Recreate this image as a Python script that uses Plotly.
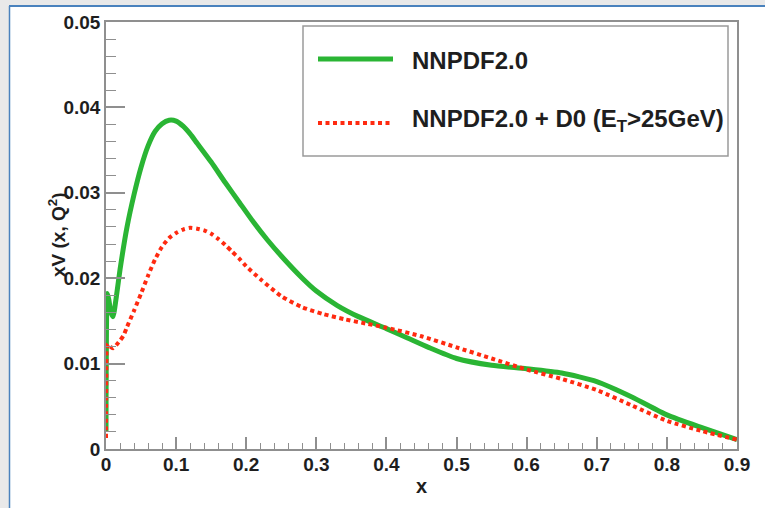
import plotly.graph_objects as go

# ---------------- data ----------------
x_nnpdf = [0.00001, 0.0001, 0.0005, 0.001, 0.002, 0.004, 0.007, 0.01, 0.015, 0.02, 0.03,
           0.04, 0.05, 0.06, 0.07, 0.08, 0.09, 0.10, 0.11, 0.12, 0.13, 0.15, 0.17, 0.19,
           0.21, 0.23, 0.25, 0.28, 0.30, 0.33, 0.36, 0.40, 0.43, 0.46, 0.50, 0.55, 0.60,
           0.65, 0.70, 0.75, 0.80, 0.85, 0.90]
y_nnpdf = [0.0020, 0.0060, 0.0120, 0.0165, 0.0182, 0.0175, 0.0160, 0.0155, 0.0180, 0.0210, 0.0260,
           0.0298, 0.0330, 0.0355, 0.0372, 0.0381, 0.0385, 0.0384, 0.0378, 0.0369, 0.0358, 0.0336, 0.0312, 0.0289,
           0.0266, 0.0245, 0.0226, 0.0200, 0.0185, 0.0168, 0.0155, 0.0141, 0.0130, 0.0119, 0.0106, 0.0098, 0.0094,
           0.0089, 0.0079, 0.0061, 0.0040, 0.0025, 0.0011]

x_d0 = [0.00001, 0.0001, 0.0005, 0.001, 0.003, 0.006, 0.01, 0.015, 0.02, 0.025, 0.03,
        0.04, 0.05, 0.06, 0.07, 0.08, 0.09, 0.10, 0.11, 0.12, 0.13, 0.14, 0.15, 0.16,
        0.17, 0.18, 0.19, 0.20, 0.22, 0.25, 0.28, 0.31, 0.34, 0.37, 0.40, 0.45, 0.50,
        0.55, 0.60, 0.65, 0.70, 0.75, 0.80, 0.85, 0.90]
y_d0 = [0.0013, 0.0050, 0.0100, 0.0118, 0.0123, 0.0120, 0.0118, 0.0122, 0.0127, 0.0133, 0.0143,
        0.0162, 0.0182, 0.0203, 0.0222, 0.0237, 0.0247, 0.0253, 0.0257, 0.0259, 0.0258, 0.0256, 0.0252, 0.0246,
        0.0239, 0.0231, 0.0223, 0.0214, 0.0199, 0.0179, 0.0166, 0.0158, 0.0152, 0.0147, 0.0142, 0.0132, 0.0119,
        0.0106, 0.0093, 0.0082, 0.0069, 0.0051, 0.0033, 0.0021, 0.0011]

series_names = ["NNPDF2.0", "NNPDF2.0 + D0 (E<sub>T</sub>>25GeV)"]
x_tick_vals = [0, 0.1, 0.2, 0.3, 0.4, 0.5, 0.6, 0.7, 0.8, 0.9]
x_tick_text = ["0", "0.1", "0.2", "0.3", "0.4", "0.5", "0.6", "0.7", "0.8", "0.9"]
y_tick_vals = [0, 0.01, 0.02, 0.03, 0.04, 0.05]
y_tick_text = ["0", "0.01", "0.02", "0.03", "0.04", "0.05"]
x_title = "x"
y_title = "xV (x, Q<sup>2</sup>)"

# ---------------- style / layout ----------------
W, H = 765, 508
L, R, T, B = 106, 28, 22, 59
PW, PH = W - L - R, H - T - B
GREEN = "#2ab534"
RED = "#ff2a10"
AX = "#8f8f8f"
TXT = "#1e1e1e"
FONT = "Liberation Sans"


def px(p):
    return (p - L) / PW


def py(p):
    return (H - B - p) / PH


fig = go.Figure()
fig.add_trace(go.Scatter(x=x_nnpdf, y=y_nnpdf, mode="lines", name=series_names[0],
                         line=dict(color=GREEN, width=5, shape="spline", smoothing=0.6),
                         showlegend=False))
fig.add_trace(go.Scatter(x=x_d0, y=y_d0, mode="lines", name=series_names[1],
                         line=dict(color=RED, width=4, dash="4px,3.5px", shape="spline", smoothing=0.6),
                         showlegend=False))

shapes = [
    # white canvas
    dict(type="rect", xref="paper", yref="paper", x0=px(10), x1=px(770), y0=py(512), y1=py(6),
         fillcolor="white", line=dict(width=0), layer="below"),
    # blue canvas border
    dict(type="line", xref="paper", yref="paper", x0=px(9.5), x1=px(9.5), y0=py(512), y1=py(6),
         line=dict(color="#4a82bd", width=1.5)),
    dict(type="line", xref="paper", yref="paper", x0=px(9), x1=px(770), y0=py(6), y1=py(6),
         line=dict(color="#4a82bd", width=2)),
    # legend box
    dict(type="rect", xref="paper", yref="paper", x0=px(303), x1=px(728), y0=py(156), y1=py(26),
         fillcolor="white", line=dict(color="#9a9a9a", width=1.5)),
    # legend samples
    dict(type="line", xref="paper", yref="paper", x0=px(318), x1=px(393), y0=py(59), y1=py(59),
         line=dict(color=GREEN, width=5)),
    dict(type="line", xref="paper", yref="paper", x0=px(318), x1=px(393), y0=py(123), y1=py(123),
         line=dict(color=RED, width=4, dash="4px,3.5px")),
]

annotations = [
    dict(xref="paper", yref="paper", x=px(410), y=py(61), text=series_names[0], showarrow=False,
         xanchor="left", yanchor="middle", font=dict(family=FONT, size=24, color=TXT, weight="bold")),
    dict(xref="paper", yref="paper", x=px(410), y=py(120), text=series_names[1], showarrow=False,
         xanchor="left", yanchor="middle", font=dict(family=FONT, size=24, color=TXT, weight="bold")),
    dict(xref="paper", yref="paper", x=px(57), y=py(235), text=y_title, showarrow=False, textangle=-90,
         xanchor="center", yanchor="middle", font=dict(family=FONT, size=19, color=TXT, weight="bold")),
    dict(xref="paper", yref="paper", x=px(421), y=py(486), text=x_title, showarrow=False,
         xanchor="center", yanchor="middle", font=dict(family=FONT, size=20, color=TXT, weight="bold")),
]

fig.update_layout(
    width=W, height=H,
    margin=dict(l=L, r=R, t=T, b=B, pad=0),
    paper_bgcolor="#e9e9e9",
    plot_bgcolor="white",
    shapes=shapes,
    annotations=annotations,
    showlegend=False,
    xaxis=dict(range=[0, 0.9], tickvals=x_tick_vals, ticktext=x_tick_text,
               showgrid=False, zeroline=False, showline=True, mirror=True,
               linecolor=AX, linewidth=1.5, ticks="inside", ticklen=12, tickwidth=1.5, tickcolor=AX,
               ticklabelstandoff=-3,
               minor=dict(dtick=0.02, tick0=0, ticks="inside", ticklen=6, tickwidth=1.2, tickcolor=AX,
                          showgrid=False),
               tickfont=dict(family=FONT, size=19, color=TXT, weight="bold")),
    yaxis=dict(range=[0, 0.05], tickvals=y_tick_vals, ticktext=y_tick_text,
               showgrid=False, zeroline=False, showline=True, mirror=True,
               linecolor=AX, linewidth=1.5, ticks="inside", ticklen=19, tickwidth=1.5, tickcolor=AX,
               minor=dict(dtick=0.002, tick0=0, ticks="inside", ticklen=10, tickwidth=1.2, tickcolor=AX,
                          showgrid=False),
               tickfont=dict(family=FONT, size=19, color=TXT, weight="bold")),
)

fig.write_html("out.html")
